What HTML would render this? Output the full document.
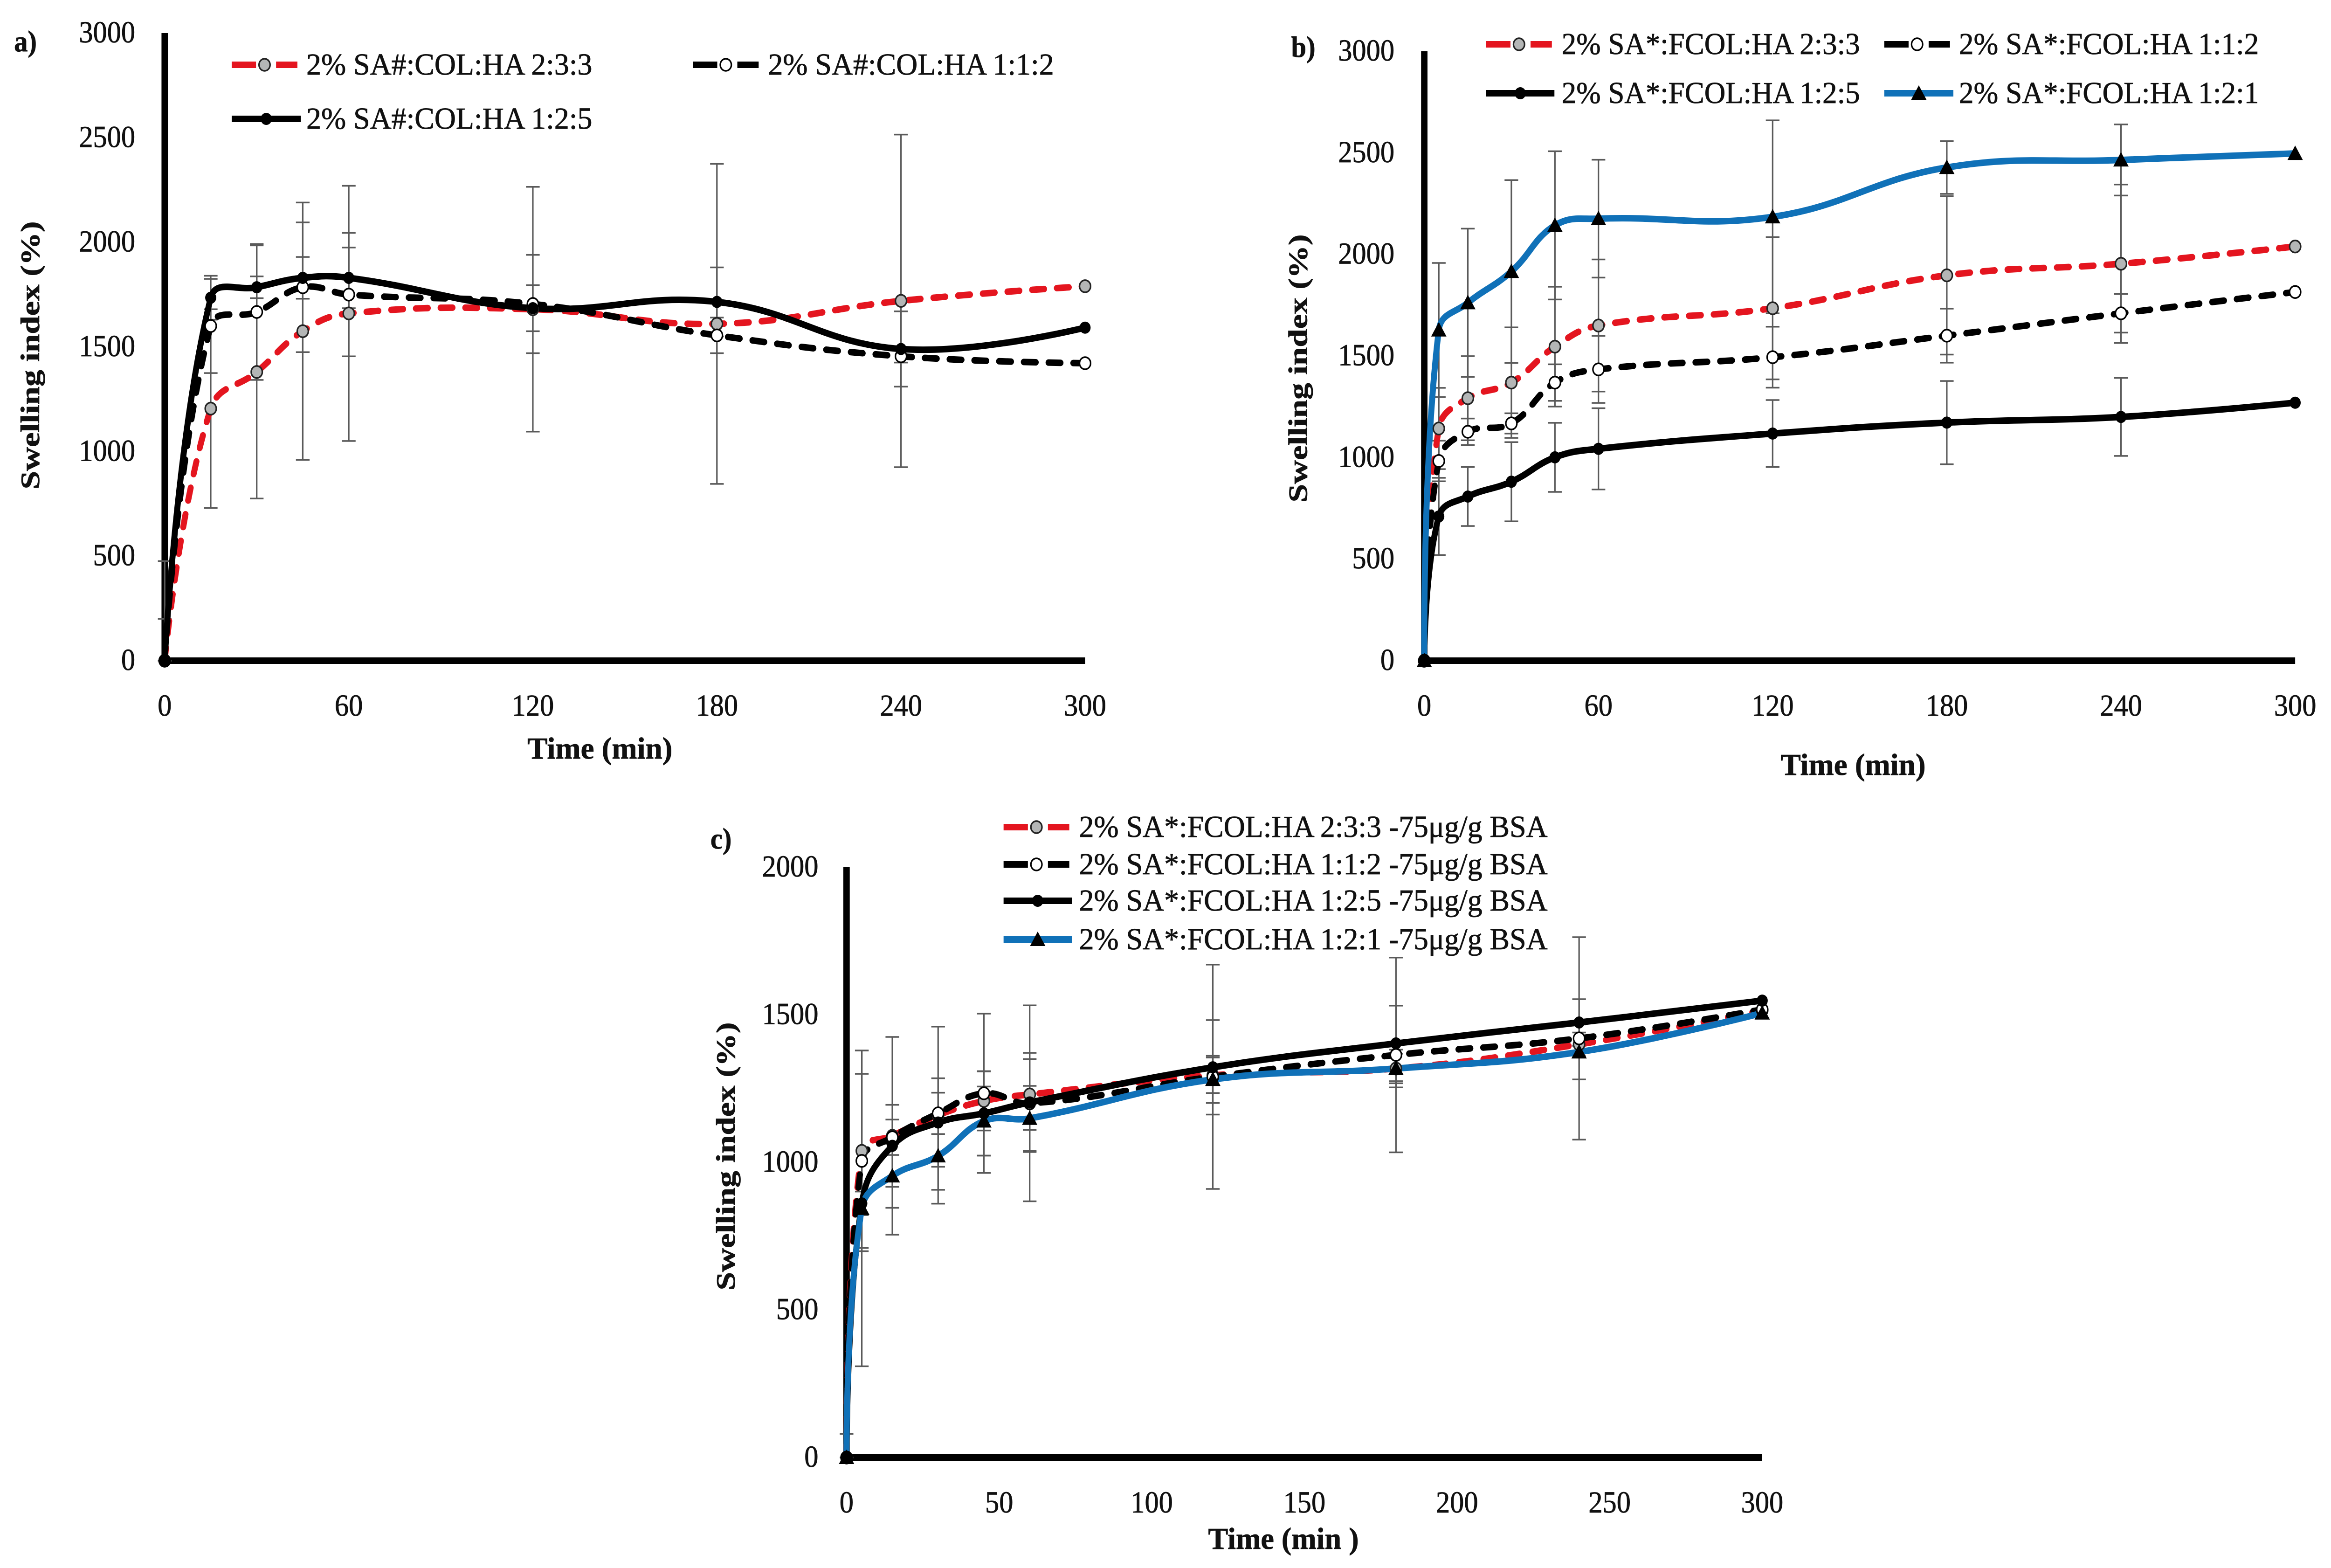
<!DOCTYPE html>
<html lang="en">
<head>
<meta charset="utf-8">
<title>Swelling index charts</title>
<style>
html,body{margin:0;padding:0;background:#fff;width:100%;height:100%;overflow:hidden;}
svg{display:block;width:100vw;height:100vh;}
text{font-family:"Liberation Serif","DejaVu Serif",serif;fill:#111;stroke:#111;stroke-width:0.8px;}
</style>
</head>
<body>
<svg id="figure" viewBox="0 0 5463 3363" preserveAspectRatio="none" xmlns="http://www.w3.org/2000/svg">
<rect x="0" y="0" width="5463" height="3363" fill="#ffffff"/>
</svg>
<script>
// ---------- Panel a data ----------
const timesA = [0, 15, 30, 45, 60, 120, 180, 240, 300];
const xTicksA = [0, 60, 120, 180, 240, 300];
const yTicksA = [0, 500, 1000, 1500, 2000, 2500, 3000];
const legendA = ['2% SA#:COL:HA 2:3:3', '2% SA#:COL:HA 1:1:2', '2% SA#:COL:HA 1:2:5'];
const redA = [0, 1205, 1380, 1575, 1660, 1680, 1610, 1720, 1790];
const dashA = [0, 1600, 1667, 1785, 1750, 1705, 1555, 1455, 1422];
const solidA = [0, 1735, 1785, 1830, 1830, 1685, 1715, 1490, 1592];
const redErrA = [476, 475, 605, 615, 610, 585, 765, 795, 0];
const dashErrA = [200, 225, 325, 310, 295, 235, 85, 30, 0];
const solidErrA = [0, 105, 52, 100, 145, 110, 165, 180, 0];

// ---------- Panel b data ----------
const timesB = [0, 5, 15, 30, 45, 60, 120, 180, 240, 300];
const xTicksB = [0, 60, 120, 180, 240, 300];
const yTicksB = [0, 500, 1000, 1500, 2000, 2500, 3000];
const legendB = ['2% SA*:FCOL:HA 2:3:3', '2% SA*:FCOL:HA 1:1:2', '2% SA*:FCOL:HA 1:2:5', '2% SA*:FCOL:HA 1:2:1'];
const redB = [0, 1143, 1292, 1369, 1546, 1650, 1735, 1897, 1954, 2039];
const dashB = [0, 983, 1127, 1168, 1369, 1434, 1494, 1600, 1710, 1815];
const solidB = [0, 710, 808, 881, 1001, 1043, 1118, 1172, 1200, 1270];
const blueB = [0, 1628, 1762, 1916, 2143, 2176, 2185, 2428, 2465, 2497];
const redErrB = [0, 200, 207, 272, 295, 325, 350, 390, 390, 0];
const dashErrB = [0, 100, 65, 50, 90, 165, 150, 133, 95, 0];
const solidErrB = [0, 190, 145, 195, 170, 200, 165, 205, 192, 0];
const blueErrB = [0, 330, 365, 450, 365, 290, 475, 130, 175, 0];

// ---------- Panel c data ----------
const timesC = [0, 5, 15, 30, 45, 60, 120, 180, 240, 300];
const xTicksC = [0, 50, 100, 150, 200, 250, 300];
const yTicksC = [0, 500, 1000, 1500, 2000];
const legendC = ['2% SA*:FCOL:HA 2:3:3 -75μg/g BSA', '2% SA*:FCOL:HA 1:1:2 -75μg/g BSA', '2% SA*:FCOL:HA 1:2:5 -75μg/g BSA', '2% SA*:FCOL:HA 1:2:1 -75μg/g BSA'];
const redC = [0, 1039, 1090, 1160, 1208, 1230, 1295, 1318, 1400, 1515];
const dashC = [0, 1005, 1085, 1166, 1234, 1200, 1290, 1364, 1420, 1518];
const solidC = [0, 861, 1056, 1135, 1166, 1203, 1322, 1403, 1474, 1548];
const blueC = [0, 844, 954, 1022, 1140, 1149, 1281, 1318, 1374, 1506];
const redErrC = [0, 340, 335, 300, 100, 120, 60, 50, 40, 0];
const dashErrC = [0, 295, 60, 70, 270, 332, 380, 330, 343, 0];
const solidErrC = [0, 40, 139, 150, 143, 168, 160, 128, 79, 0];
const blueErrC = [80, 535, 108, 115, 117, 110, 80, 64, 93, 0];

const NS = 'http://www.w3.org/2000/svg';
const root = document.getElementById('figure');

function mk(tag, attrs, parent) {
  const el = document.createElementNS(NS, tag);
  for (const k in attrs) el.setAttribute(k, attrs[k]);
  parent.appendChild(el);
  return el;
}

// Smooth path through points, chord-length scaled (spreadsheet style smoothing)
function smoothPath(pts) {
  const ctrl = pts.map(function (p, i) {
    if (i === 0 || i === pts.length - 1) return { prev: p, next: p };
    const a = pts[i - 1], b = pts[i + 1];
    const d01 = Math.hypot(p[0] - a[0], p[1] - a[1]);
    const d12 = Math.hypot(b[0] - p[0], b[1] - p[1]);
    const s = d01 + d12 || 1;
    const fa = 0.42 * d01 / s, fb = 0.42 * d12 / s;
    return {
      prev: [p[0] - fa * (b[0] - a[0]), p[1] - fa * (b[1] - a[1])],
      next: [p[0] + fb * (b[0] - a[0]), p[1] + fb * (b[1] - a[1])]
    };
  });
  let d = 'M' + pts[0][0].toFixed(1) + ' ' + pts[0][1].toFixed(1);
  for (let i = 1; i < pts.length; i++) {
    const c1 = ctrl[i - 1].next, c2 = ctrl[i].prev, p = pts[i];
    d += 'C' + c1[0].toFixed(1) + ' ' + c1[1].toFixed(1) + ' ' + c2[0].toFixed(1) + ' ' + c2[1].toFixed(1) + ' ' + p[0].toFixed(1) + ' ' + p[1].toFixed(1);
  }
  return d;
}

const lineStyles = {
  red:   { stroke: '#e4151f', dash: '28 30', legendDash: '57 47', cap: 'round', width: 14 },
  dash:  { stroke: '#000000', dash: '28 30', legendDash: '57 47', cap: 'round', width: 14 },
  solid: { stroke: '#000000', dash: 'none', legendDash: 'none', cap: 'round', width: 14 },
  blue:  { stroke: '#1071b8', dash: 'none', legendDash: 'none', cap: 'round', width: 14 }
};

function drawMarker(group, kind, x, y) {
  let m;
  if (kind === 'blue') {
    m = mk('polygon', { points: (x - 18) + ',' + (y + 14) + ' ' + (x + 18) + ',' + (y + 14) + ' ' + x + ',' + (y - 17), fill: '#000' }, group);
  } else if (kind === 'solid') {
    m = mk('circle', { cx: x, cy: y, r: 13, fill: '#000' }, group);
  } else if (kind === 'dash') {
    m = mk('circle', { cx: x, cy: y, r: 13, fill: '#fff', stroke: '#000', 'stroke-width': 3.5 }, group);
  } else {
    m = mk('circle', { cx: x, cy: y, r: 13, fill: '#b4b6b6', stroke: '#222', 'stroke-width': 3.5 }, group);
  }
  return m;
}

function drawText(group, str, x, y, size, opts) {
  const o = opts || {};
  const attrs = { x: x, y: y, 'font-size': size };
  if (o.anchor) attrs['text-anchor'] = o.anchor;
  if (o.bold) attrs['font-weight'] = 'bold';
  if (o.len) { attrs.textLength = o.len; attrs.lengthAdjust = 'spacingAndGlyphs'; }
  if (o.transform) attrs.transform = o.transform;
  const t = mk('text', attrs, group);
  t.textContent = str;
  return t;
}

function drawPanel(p) {
  const g = mk('g', {}, root);
  
  

  const sx = function (v) { return p.x0 + (v / p.xMax) * (p.x1 - p.x0); };
  const sy = function (v) { return p.y0 - (v / p.yMax) * (p.y0 - p.yTop); };

  // panel letter
  const letter = drawText(g, p.id + ')', p.letterX, p.letterY, 64, { bold: true });
  
  

  // axes
  const yAxis = mk('line', { x1: p.x0, y1: sy(p.yMax), x2: p.x0, y2: p.y0 + 7, stroke: '#000', 'stroke-width': 15 }, g);
  
  
  const xAxis = mk('line', { x1: p.x0, y1: p.y0, x2: p.x1, y2: p.y0, stroke: '#000', 'stroke-width': 14 }, g);
  
  

  // tick labels
  p.yTicks.forEach(function (v) {
    const t = drawText(g, String(v), p.yLabelX, sy(v) + 20, 66, { anchor: 'end' });
    
    
  });
  p.xTicks.forEach(function (v) {
    const t = drawText(g, String(v), sx(v), p.xLabelY, 66, { anchor: 'middle' });
    
    
  });

  // axis titles
  const xTitle = drawText(g, p.xTitle, p.xTitleX, p.xTitleY, 66, { anchor: 'middle', bold: true, len: p.xTitleLen });
  
  
  const yTitle = drawText(g, 'Swelling index (%)', 0, 0, 62, { anchor: 'middle', bold: true, len: 575, transform: 'translate(' + p.yTitleX + ' ' + p.yTitleY + ') rotate(-90)' });
  
  

  // error bars (beneath series)
  p.series.forEach(function (s) {
    const eg = mk('g', { stroke: '#5a5a5a', 'stroke-width': 3.5, fill: 'none' }, g);
    
    
    p.times.forEach(function (t, i) {
      const e = s.err[i];
      if (!e) return;
      const x = sx(t);
      const hi = sy(s.values[i] + e);
      const lo = sy(Math.max(0, s.values[i] - e));
      const bar = mk('path', { d: 'M' + x + ' ' + hi + 'V' + lo + 'M' + (x - 16) + ' ' + hi + 'H' + (x + 16) + 'M' + (x - 16) + ' ' + lo + 'H' + (x + 16) }, eg);
      
      
    });
  });

  // series lines and markers
  p.series.forEach(function (s) {
    const st = lineStyles[s.kind];
    const pts = p.times.map(function (t, i) { return [sx(t), sy(s.values[i])]; });
    const path = mk('path', { d: smoothPath(pts), fill: 'none', stroke: st.stroke, 'stroke-width': st.width, 'stroke-linecap': st.cap, 'stroke-linejoin': 'round', 'stroke-dasharray': st.dash }, g);
    
    
  });
  p.series.forEach(function (s) {
    const mg = mk('g', {}, g);
    
    
    p.times.forEach(function (t, i) {
      const m = drawMarker(mg, s.kind, sx(t), sy(s.values[i]));
      
      
    });
  });

  // legend
  p.series.forEach(function (s, i) {
    const L = p.legendPos[i];
    const st = lineStyles[s.kind];
    const lg = mk('g', {}, g);
    
    
    const sample = mk('line', { x1: L.lx0, y1: L.y, x2: L.lx1, y2: L.y, stroke: st.stroke, 'stroke-width': st.width, 'stroke-dasharray': st.legendDash, 'stroke-linecap': 'butt' }, lg);
    
    
    const mark = drawMarker(lg, s.kind, (L.lx0 + L.lx1) / 2, L.y);
    
    
    const label = drawText(lg, s.label, L.tx, L.y + 21, 66, { len: L.tw });
    
    
  });
}

drawPanel({
  id: 'a', x0: 386, x1: 2543, y0: 1417, yTop: 71, xMax: 300, yMax: 3000,
  times: timesA, xTicks: xTicksA, yTicks: yTicksA,
  letterX: 33, letterY: 110, yLabelX: 317, xLabelY: 1535,
  xTitle: 'Time (min)', xTitleX: 1406, xTitleY: 1627, xTitleLen: 340,
  yTitleX: 92, yTitleY: 762,
  series: [
    { kind: 'red', label: legendA[0], values: redA, err: redErrA },
    { kind: 'dash', label: legendA[1], values: dashA, err: dashErrA },
    { kind: 'solid', label: legendA[2], values: solidA, err: solidErrA }
  ],
  legendPos: [
    { lx0: 543, lx1: 697, y: 139, tx: 718, tw: 670 },
    { lx0: 1624, lx1: 1778, y: 139, tx: 1800, tw: 670 },
    { lx0: 543, lx1: 705, y: 255, tx: 718, tw: 670 }
  ]
});

drawPanel({
  id: 'b', x0: 3338, x1: 5379, y0: 1417, yTop: 110, xMax: 300, yMax: 3000,
  times: timesB, xTicks: xTicksB, yTicks: yTicksB,
  letterX: 3026, letterY: 122, yLabelX: 3268, xLabelY: 1535,
  xTitle: 'Time (min)', xTitleX: 4343, xTitleY: 1662, xTitleLen: 340,
  yTitleX: 3063, yTitleY: 790,
  series: [
    { kind: 'red', label: legendB[0], values: redB, err: redErrB },
    { kind: 'dash', label: legendB[1], values: dashB, err: dashErrB },
    { kind: 'solid', label: legendB[2], values: solidB, err: solidErrB },
    { kind: 'blue', label: legendB[3], values: blueB, err: blueErrB }
  ],
  legendPos: [
    { lx0: 3483, lx1: 3637, y: 95, tx: 3660, tw: 699 },
    { lx0: 4416, lx1: 4570, y: 95, tx: 4591, tw: 703 },
    { lx0: 3483, lx1: 3643, y: 200, tx: 3660, tw: 699 },
    { lx0: 4416, lx1: 4578, y: 200, tx: 4591, tw: 703 }
  ]
});

drawPanel({
  id: 'c', x0: 1984, x1: 4130, y0: 3126, yTop: 1860, xMax: 300, yMax: 2000,
  times: timesC, xTicks: xTicksC, yTicks: yTicksC,
  letterX: 1665, letterY: 1820, yLabelX: 1918, xLabelY: 3244,
  xTitle: 'Time (min )', xTitleX: 3008, xTitleY: 3322, xTitleLen: 353,
  yTitleX: 1722, yTitleY: 2480,
  series: [
    { kind: 'red', label: legendC[0], values: redC, err: redErrC },
    { kind: 'dash', label: legendC[1], values: dashC, err: dashErrC },
    { kind: 'solid', label: legendC[2], values: solidC, err: solidErrC },
    { kind: 'blue', label: legendC[3], values: blueC, err: blueErrC }
  ],
  legendPos: [
    { lx0: 2352, lx1: 2506, y: 1774, tx: 2529, tw: 1098 },
    { lx0: 2352, lx1: 2506, y: 1854, tx: 2529, tw: 1098 },
    { lx0: 2352, lx1: 2512, y: 1932, tx: 2529, tw: 1098 },
    { lx0: 2352, lx1: 2512, y: 2015, tx: 2529, tw: 1098 }
  ]
});
</script>
</body>
</html>
